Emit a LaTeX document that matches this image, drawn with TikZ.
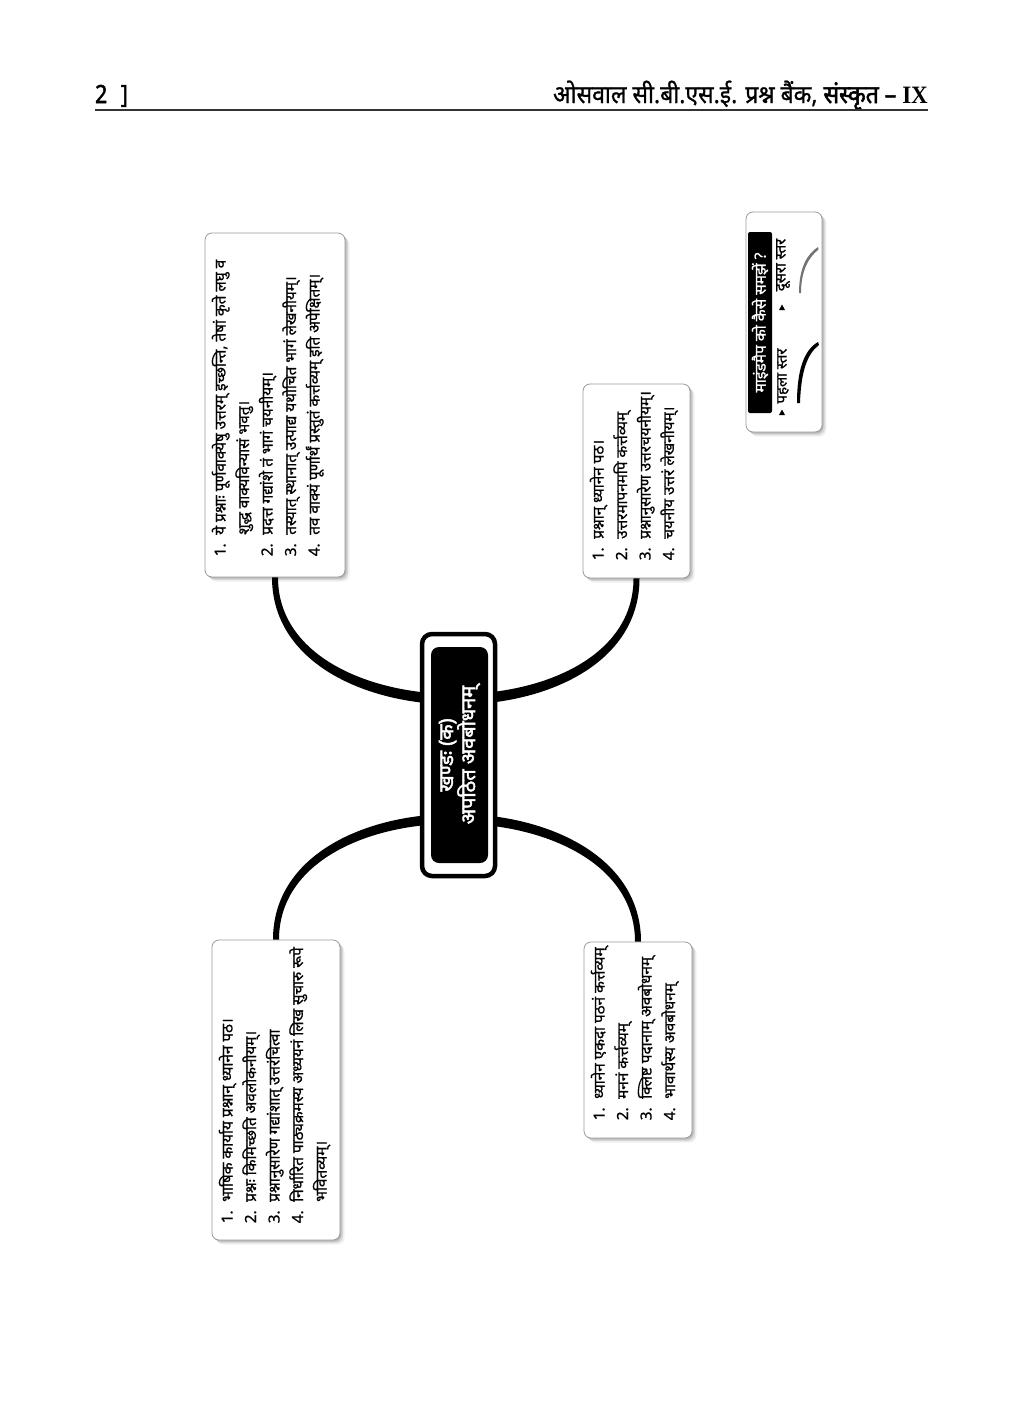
\documentclass[tikz,border=0pt]{standalone}
\usepackage{fontspec}
\usetikzlibrary{calc}
\newfontfamily\dev[Script=Devanagari,FakeBold=0.8]{Noto Sans}
\newfontfamily\devm[Script=Devanagari,FakeBold=0.9]{Noto Sans}
\newfontfamily\devb[Script=Devanagari,FakeBold=2.2]{Noto Sans}
\newfontfamily\ser{Liberation Serif}
\begin{document}
\begin{tikzpicture}[x=1pt,y=-1pt,
  card/.style={draw=black!40, line width=0.8pt, fill=white, rounded corners=7pt, inner sep=0pt,
    preaction={fill=black, opacity=0.06, rounded corners=7pt, transform canvas={shift={(4.5pt,-4.5pt)}}},
    preaction={fill=black, opacity=0.10, rounded corners=7pt, transform canvas={shift={(3pt,-3pt)}}},
    preaction={fill=black, opacity=0.14, rounded corners=7pt, transform canvas={shift={(1.5pt,-1.5pt)}}}},
  txt/.style={rotate=90, anchor=north west, inner sep=0pt, align=left, font=\dev\fontsize{15.3}{23.5}\selectfont},
  conn/.style={fill=black, draw=none}]
\useasboundingbox (0,0) rectangle (1024,1408);
\fill[white] (0,0) rectangle (1024,1408);

% header
\node[anchor=base west, inner sep=0pt, xscale=0.85, font=\devb\fontsize{25}{27}\selectfont] (pg) at (95,103) {2\hspace{16pt}]};
\node[anchor=base east, inner sep=0pt, xscale=0.92, font=\devm\fontsize{25}{27}\selectfont] (ht) at (928,103) {ओसवाल सी.बी.एस.ई. प्रश्न बैंक, {\devb संस्कृत – {\ser\bfseries IX}}};
\draw[line width=1.6pt, black!80] (95,110) -- (928,110);

% boxes
\node[card, minimum width=140pt, minimum height=344pt] (tl) at (275,405) {};
\node[card, minimum width=107pt, minimum height=194pt] (tr) at (636.5,481) {};
\node[card, minimum width=128pt, minimum height=300pt] (bl) at (276,1090) {};
\node[card, minimum width=108pt, minimum height=196pt] (br) at (638,1040) {};

% connectors
\fill[conn] ($(tl.south)+(-3,0)$) .. controls ($(tl.south)+(-3,169)$) and ($(tr.south)+(3,169)$) .. ($(tr.south)+(3,0)$)
  -- ($(tr.south)+(-3,0)$) .. controls ($(tr.south)+(-3,155)$) and ($(tl.south)+(3,155)$) .. ($(tl.south)+(3,0)$) -- cycle;
\fill[conn] ($(bl.north)+(-3,0)$) .. controls ($(bl.north)+(-3,-169)$) and ($(br.north)+(3,-169)$) .. ($(br.north)+(3,0)$)
  -- ($(br.north)+(-3,0)$) .. controls ($(br.north)+(-3,-156)$) and ($(bl.north)+(3,-156)$) .. ($(bl.north)+(3,0)$) -- cycle;

% centre
\node[draw=black, line width=4.5pt, fill=white, rounded corners=10pt, minimum width=73pt, minimum height=242pt] (cb) at (458.5,755) {};
\node[fill=black, rounded corners=8pt, minimum width=57pt, minimum height=216pt] (ci) at (459.5,755) {};
\node[rotate=90, text=white, align=center, inner sep=0pt, font=\devb\fontsize{20}{22}\selectfont] (ct) at (ci.center) {खण्डः (क)\\अपठित अवबोधनम्};

% texts
\node[txt] (tlt) at ($(tl.south west)+(7,-21)$) {%
\makebox[1.4em][l]{1.}ये प्रश्नाः पूर्णवाक्येषु उत्तरम् इच्छन्ति, तेषां कृते लघु व\\
\hspace*{1.4em}शुद्ध वाक्यविन्यासं भवतु।\\
\makebox[1.4em][l]{2.}प्रदत्त गद्यांशे तं भागं चयनीयम्।\\
\makebox[1.4em][l]{3.}तस्यात् स्थानात् उत्पाद्य यथोचित भागं लेखनीयम्।\\
\makebox[1.4em][l]{4.}तव वाक्यं पूर्णार्थं प्रस्तुतं कर्त्तव्यम् इति अपेक्षितम्।};

\node[txt] (trt) at ($(tr.south west)+(7,-18)$) {%
\makebox[1.4em][l]{1.}प्रश्नान् ध्यानेन पठ।\\
\makebox[1.4em][l]{2.}उत्तरमापनमपि कर्त्तव्यम्\\
\makebox[1.4em][l]{3.}प्रश्नानुसारेण उत्तरचयनीयम्।\\
\makebox[1.4em][l]{4.}चयनीय उत्तरं लेखनीयम्।};

\node[txt] (blt) at ($(bl.south west)+(7,-17)$) {%
\makebox[1.4em][l]{1.}भाषिक कार्याय प्रश्नान् ध्यानेन पठ।\\
\makebox[1.4em][l]{2.}प्रश्नः किमिच्छति अवलोकनीयम्।\\
\makebox[1.4em][l]{3.}प्रश्नानुसारेण गद्यांशात् उत्तरंचित्वा\\
\makebox[1.4em][l]{4.}निर्धारित पाठ्यक्रमस्य अध्ययनं लिख सुचारु रूपे\\
\hspace*{1.4em}भवितव्यम्।};

\node[txt] (brt) at ($(br.south west)+(7,-18)$) {%
\makebox[1.4em][l]{1.}ध्यानेन एकदा पठनं कर्त्तव्यम्\\
\makebox[1.4em][l]{2.}मननं कर्त्तव्यम्\\
\makebox[1.4em][l]{3.}क्लिष्ट पदानाम् अवबोधनम्\\
\makebox[1.4em][l]{4.}भावार्थस्य अवबोधनम्};

% legend
\node[card, minimum width=76pt, minimum height=220pt] (lg) at (784,322) {};
\node[rotate=90, fill=black, text=white, rounded corners=2pt, inner sep=0pt, minimum width=181pt, minimum height=24pt,
  font=\devm\fontsize{15.5}{17}\selectfont] (lgl) at (760,322.5) {माइंडमैप को कैसे समझें ?};
\node[rotate=90, inner sep=0pt, font=\devm\fontsize{15}{16}\selectfont] (l1) at (783,376) {पहला स्तर};
\node[rotate=90, inner sep=0pt, font=\devm\fontsize{15}{16}\selectfont] (l2) at (783,265) {दूसरा स्तर};
\fill (779,415) -- (785,415) -- (782,409.5) -- cycle;
\fill (779,310) -- (785,310) -- (782,304.5) -- cycle;
\fill (797,403) .. controls (797,370) and (804,350) .. (818,342) -- (819,345) .. controls (807,354) and (801,372) .. (800,403) -- cycle;
\fill[black!55] (799,293) .. controls (799,268) and (807,254) .. (818,247) -- (818.5,249.5) .. controls (809,257) and (801,270) .. (801,293) -- cycle;
\end{tikzpicture}
\end{document}
